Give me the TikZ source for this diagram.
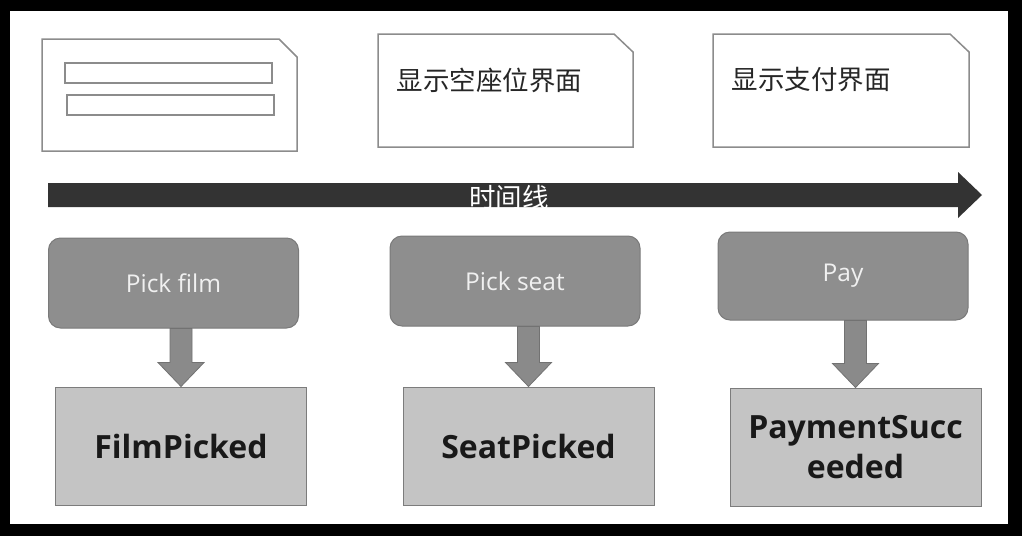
\documentclass[tikz,border=0pt]{standalone}
\usepackage{fontspec}
\setmainfont{Open Sans}
\newfontfamily\cjk{Noto Sans CJK SC}
\usetikzlibrary{calc}
\definecolor{tlcol}{HTML}{333333}
\definecolor{cmdfill}{HTML}{8E8E8E}
\definecolor{cmdline}{HTML}{7A7A7A}
\definecolor{evfill}{HTML}{C4C4C4}
\definecolor{evline}{HTML}{7C7C7C}
\definecolor{arrfill}{HTML}{8A8A8A}
\definecolor{arrline}{HTML}{727272}
\definecolor{scrline}{HTML}{8C8C8C}
\tikzset{
  screen/.style={draw=scrline, line width=1.5pt, fill=white},
  cmdbox/.style={draw=cmdline, line width=1pt, fill=cmdfill, rounded corners=12pt,
    minimum width=250pt, minimum height=90pt, text=white!94!black,
    font=\fontsize{24.5}{28}\selectfont},
  evbox/.style={draw=evline, line width=1pt, fill=evfill, minimum width=251pt,
    minimum height=118pt, text=black!90, align=center,
    font=\fontsize{32}{40}\selectfont\bfseries},
  fatarrow/.style={draw=arrline, line width=0.8pt, fill=arrfill},
  scrtext/.style={anchor=west, font=\cjk\fontsize{26.5}{30}\selectfont, text=black!85}
}
\newcommand{\fatarr}[2]{%
  \draw[fatarrow] ($(#1.south -| #2.north)+(-11,0)$) -- ($(#2.north)+(-11,-24)$)
    -- ($(#2.north)+(-23,-24)$) -- (#2.north) -- ($(#2.north)+(23,-24)$)
    -- ($(#2.north)+(11,-24)$) -- ($(#1.south -| #2.north)+(11,0)$) -- cycle;}
\begin{document}
\begin{tikzpicture}[x=1pt,y=-1pt]
\useasboundingbox (0,0) rectangle (1022,536);
\fill[black] (0,0) rectangle (1022,536);
\fill[white] (10,11) rectangle (1008,524);
% screens
\draw[screen] (42,39) -- (279,39) -- (297,57) -- (297,151) -- (42,151) -- cycle;
\draw[screen] (65,63) rectangle (272,83);
\draw[screen] (67,95) rectangle (274,115);
\draw[screen] (378,34) -- (614,34) -- (633,52) -- (633,147) -- (378,147) -- cycle;
\draw[screen] (713,34) -- (950,34) -- (969,52) -- (969,147) -- (713,147) -- cycle;
\node[scrtext] (s2) at (393,80) {显示空座位界面};
\node[scrtext] (s3) at (728,80) {显示支付界面};
% timeline
\fill[tlcol] (48,183) -- (958,183) -- (958,172) -- (982,195) -- (958,218) -- (958,207) -- (48,207) -- cycle;
\node[font=\cjk\fontsize{26.5}{30}\selectfont, text=white] (tl) at (509,197) {时间线};
% commands
\node[cmdbox] (p1) at (173.5,283) {Pick film};
\node[cmdbox] (p2) at (515,281) {Pick seat};
\node[cmdbox, minimum height=88pt] (p3) at (843,276) {Pay};
% events
\node[evbox] (e1) at (181,446) {FilmPicked};
\node[evbox] (e2) at (528.5,446) {SeatPicked};
\node[evbox] (e3) at (855.5,447) {PaymentSucc\\eeded};
% arrows
\fatarr{p1}{e1}
\fatarr{p2}{e2}
\fatarr{p3}{e3}
\end{tikzpicture}
\end{document}
